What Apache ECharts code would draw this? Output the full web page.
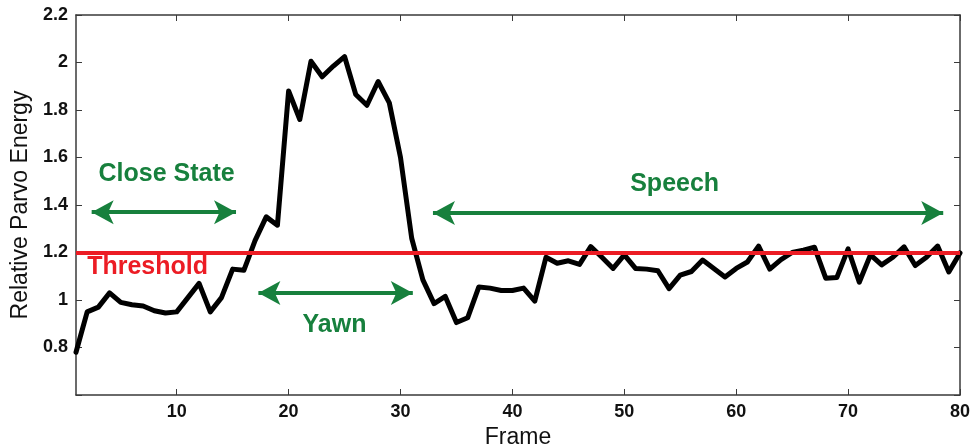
<!DOCTYPE html>
<html>
<head>
<meta charset="utf-8">
<script src="https://cdn.jsdelivr.net/npm/echarts@6/dist/echarts.min.js"></script>
<style>html,body{margin:0;padding:0;background:#fff}#c{width:974px;height:448px}</style>
</head>
<body>
<div id="c"></div>
<script>
// ---- data ----
const frames = [];
for (let i = 1; i <= 80; i++) frames.push(i);
const energy = [
  0.78, 0.95, 0.97, 1.03, 0.99, 0.98, 0.975, 0.955, 0.945, 0.95,
  1.01, 1.07, 0.95, 1.01, 1.13, 1.125, 1.25, 1.35, 1.315, 1.88,
  1.76, 2.005, 1.94, 1.985, 2.025, 1.865, 1.82, 1.92, 1.83, 1.60,
  1.26, 1.085, 0.985, 1.015, 0.905, 0.925, 1.055, 1.05, 1.04, 1.04,
  1.05, 0.995, 1.18, 1.155, 1.165, 1.15, 1.225, 1.18, 1.133, 1.19,
  1.133, 1.13, 1.123, 1.048, 1.105, 1.12, 1.168, 1.133, 1.097, 1.133,
  1.16, 1.227, 1.13, 1.17, 1.2, 1.21, 1.222, 1.092, 1.095, 1.215,
  1.075, 1.19, 1.148, 1.18, 1.224, 1.145, 1.18, 1.227, 1.118, 1.198
];
const threshold = 1.2;
const xTickValues = [10, 20, 30, 40, 50, 60, 70, 80];
const yTickValues = [0.6, 0.8, 1, 1.2, 1.4, 1.6, 1.8, 2, 2.2];
const yLabelValues = [0.8, 1, 1.2, 1.4, 1.6, 1.8, 2, 2.2];
// annotation arrows: [xStart, xEnd, y]
const arrowSpans = [
  [2.4, 15.3, 1.37],
  [17.3, 31.1, 1.03],
  [32.9, 78.5, 1.366]
];
// annotation texts: [x, y, text, colorKey]
const noteTexts = [
  [9.1, 1.53, 'Close State', 'green'],
  [24.1, 0.895, 'Yawn', 'green'],
  [54.5, 1.49, 'Speech', 'green'],
  [7.4, 1.137, 'Threshold', 'red']
];

const GREEN = '#17803d';
const RED = '#ec1c24';
const AXC = '#3a3a3a';
const tickFont = {fontFamily: 'Liberation Sans, Arial, sans-serif', fontWeight: 'bold', fontSize: 18, color: '#111'};

const chart = echarts.init(document.getElementById('c'), null, {renderer: 'canvas'});
const lineData = frames.map((f, i) => [f, energy[i]]);

const option = {
  animation: false,
  backgroundColor: '#fff',
  grid: {left: 76, right: 14, top: 15, bottom: 53, containLabel: false, outerBoundsMode: 'none'},
  xAxis: [
    {
      type: 'value', min: 1, max: 80, position: 'bottom',
      name: 'Frame', nameLocation: 'middle', nameGap: 29,
      nameTextStyle: {fontFamily: 'Liberation Sans, Arial, sans-serif', fontSize: 23, color: '#111'},
      axisLine: {show: true, lineStyle: {color: AXC, width: 1.5}},
      axisTick: {show: true, inside: true, length: 6, customValues: xTickValues, lineStyle: {color: AXC, width: 1}},
      axisLabel: Object.assign({show: true, margin: 8, customValues: xTickValues}, tickFont),
      splitLine: {show: false}
    },
    {
      type: 'value', min: 1, max: 80, position: 'top',
      axisLine: {show: true, lineStyle: {color: AXC, width: 1.5}},
      axisTick: {show: true, inside: true, length: 6, customValues: xTickValues, lineStyle: {color: AXC, width: 1}},
      axisLabel: {show: false},
      splitLine: {show: false}
    }
  ],
  yAxis: [
    {
      type: 'value', min: 0.6, max: 2.2, position: 'left',
      name: 'Relative Parvo Energy', nameLocation: 'middle', nameGap: 40,
      nameTextStyle: {fontFamily: 'Liberation Sans, Arial, sans-serif', fontSize: 23, color: '#111'},
      axisLine: {show: true, lineStyle: {color: AXC, width: 1.5}},
      axisTick: {show: true, inside: true, length: 6, customValues: yTickValues, lineStyle: {color: AXC, width: 1}},
      axisLabel: Object.assign({show: true, margin: 8, customValues: yLabelValues}, tickFont),
      splitLine: {show: false}
    },
    {
      type: 'value', min: 0.6, max: 2.2, position: 'right',
      axisLine: {show: true, lineStyle: {color: AXC, width: 1.5}},
      axisTick: {show: true, inside: true, length: 6, customValues: yTickValues, lineStyle: {color: AXC, width: 1}},
      axisLabel: {show: false},
      splitLine: {show: false}
    }
  ],
  series: [
    {
      type: 'line',
      data: lineData,
      showSymbol: false,
      symbol: 'none',
      lineStyle: {color: '#000', width: 5, join: 'round', cap: 'round'},
      z: 2,
      markLine: {
        silent: true,
        animation: false,
        data: [
          [{coord: [1, threshold], symbol: 'none'}, {coord: [80, threshold], symbol: 'none'}]
        ],
        lineStyle: {color: RED, width: 4, type: 'solid'},
        label: {show: false}
      }
    },
    {
      type: 'line',
      data: [],
      z: 3,
      markLine: {
        silent: true,
        animation: false,
        symbol: ['arrow', 'arrow'],
        symbolSize: [18, 22],
        data: arrowSpans.map(a => [{coord: [a[0], a[2]]}, {coord: [a[1], a[2]]}]),
        lineStyle: {color: GREEN, width: 4, type: 'solid'},
        itemStyle: {color: GREEN},
        label: {show: false}
      }
    },
    {
      type: 'scatter',
      z: 4,
      symbolSize: 0,
      silent: true,
      itemStyle: {color: 'rgba(0,0,0,0)', opacity: 1},
      data: noteTexts.map(t => ({
        value: [t[0], t[1]],
        label: {
          show: true, position: 'inside', formatter: t[2], opacity: 1,
          color: t[3] === 'red' ? RED : GREEN,
          fontFamily: 'Liberation Sans, Arial, sans-serif', fontWeight: 'bold', fontSize: 25
        }
      }))
    }
  ]
};
chart.setOption(option);
</script>
</body>
</html>
